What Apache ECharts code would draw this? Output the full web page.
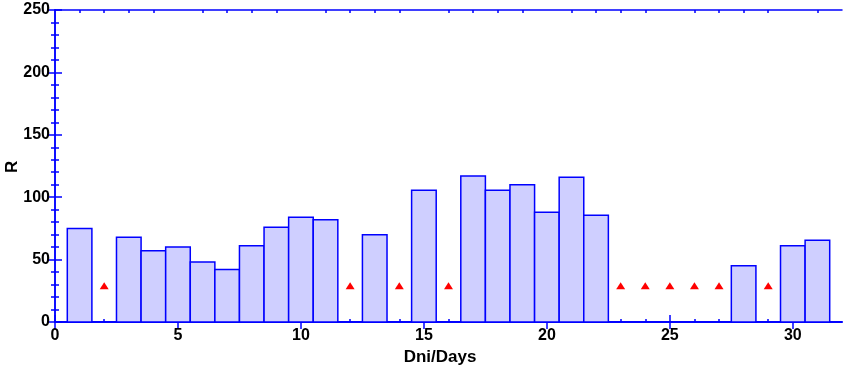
<!DOCTYPE html>
<html>
<head>
<meta charset="utf-8">
<script src="https://cdn.jsdelivr.net/npm/echarts@6/dist/echarts.min.js"></script>
<style>
  html, body { margin: 0; padding: 0; background: #fff; }
  #chart { width: 843px; height: 367px; }
</style>
</head>
<body>
<div id="chart"></div>
<script>
// daily values, null = no data that day
var days = [1,2,3,4,5,6,7,8,9,10,11,12,13,14,15,16,17,18,19,20,21,22,23,24,25,26,27,28,29,30,31]
var values = [75,null,68,57,60,48,42,61,76,84,82,null,70,null,105.5,null,117,105.5,110,88,116,85.5,null,null,null,null,null,45,null,61,65.5]
var missingDays = [2,12,14,16,23,24,25,26,27,29]
var markerLevel = 29
var xMajor = [0,5,10,15,20,25,30]
var xMinor = [1,2,3,4,6,7,8,9,11,12,13,14,16,17,18,19,21,22,23,24,26,27,28,29,31]

var blue = '#0000ff'
var font = 'Liberation Sans, Arial, sans-serif'

var barData = []
days.forEach(function (d, i) {
  if (values[i] != null) barData.push([d, values[i]])
})
var markData = missingDays.map(function (d) { return [d, markerLevel] })

function xAxisDef(pos, ticks, len, labels) {
  return {
    type: 'value', position: pos, min: 0, max: 32,
    axisLine: { show: true, lineStyle: { color: blue, width: 1.5 } },
    axisTick: { show: true, inside: true, length: len, customValues: ticks, lineStyle: { color: blue, width: 1.5 } },
    axisLabel: labels ? {
      customValues: xMajor, color: '#000', fontFamily: font, fontWeight: 'bold', fontSize: 16, margin: 6
    } : { show: false },
    splitLine: { show: false }
  }
}

function yAxisDef(pos, labels) {
  return {
    type: 'value', position: pos, min: 0, max: 250, interval: 50,
    axisLine: { show: true, lineStyle: { color: blue, width: 1.5 } },
    axisTick: { show: true, inside: true, length: 7, lineStyle: { color: blue, width: 1.5 } },
    minorTick: { show: true, splitNumber: 5, length: 4, lineStyle: { color: blue, width: 1.5 } },
    axisLabel: labels ? {
      color: '#000', fontFamily: font, fontWeight: 'bold', fontSize: 16, margin: 5
    } : { show: false },
    splitLine: { show: false }
  }
}

var myChart = echarts.init(document.getElementById('chart'), null, { renderer: 'canvas' })
var option = {
  animation: false,
  grid: { left: 55, right: 1, top: 10, bottom: 45 },
  xAxis: [
    xAxisDef('bottom', xMajor, 7, true),
    xAxisDef('top', xMajor, 7, false),
    xAxisDef('bottom', xMinor, 3, false),
    xAxisDef('top', xMinor, 3, false)
  ],
  yAxis: [
    yAxisDef('left', true),
    yAxisDef('right', false)
  ],
  graphic: [
    { type: 'text', x: 440, y: 357, style: { text: 'Dni/Days', fill: '#000', font: 'bold 17px ' + font, align: 'center', verticalAlign: 'middle' } },
    { type: 'text', x: 4, y: 173, rotation: Math.PI / 2, style: { text: 'R', fill: '#000', font: 'bold 17px ' + font } }
  ],
  series: [
    {
      type: 'custom',
      xAxisIndex: 0, yAxisIndex: 0,
      data: barData,
      renderItem: function (params, api) {
        var d = api.value(0), v = api.value(1)
        var p0 = api.coord([d - 0.5, v])
        var p1 = api.coord([d + 0.5, 0])
        return {
          type: 'rect',
          shape: { x: p0[0], y: p0[1], width: p1[0] - p0[0], height: p1[1] - p0[1] },
          style: { fill: '#cfcfff', stroke: blue, lineWidth: 1.5 }
        }
      }
    },
    {
      type: 'scatter',
      xAxisIndex: 0, yAxisIndex: 0,
      symbol: 'triangle',
      symbolSize: [9, 7],
      itemStyle: { color: '#ff0000', opacity: 1 },
      data: markData
    }
  ]
}
myChart.setOption(option)
</script>
</body>
</html>
